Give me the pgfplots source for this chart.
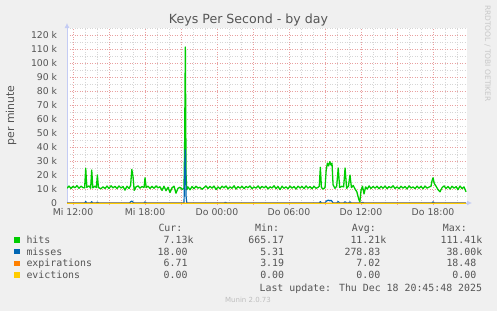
\documentclass[border=0pt]{standalone}
\usepackage{pgfplots}
\pgfplotsset{compat=1.18}
\usepackage{fontspec}
\setmainfont{DejaVu Sans}
\newfontfamily\mono{DejaVu Sans Mono}
\usetikzlibrary{arrows.meta}
\definecolor{bgc}{HTML}{F0F0F0}
\definecolor{txt}{HTML}{555555}
\definecolor{axb}{HTML}{C4CCF4}
\definecolor{mgrid}{HTML}{E9A0A0}
\definecolor{ngrid}{HTML}{D6D6D6}
\definecolor{chits}{HTML}{00CC00}
\definecolor{cmiss}{HTML}{0066B3}
\definecolor{cexp}{HTML}{FF8000}
\definecolor{cevi}{HTML}{FFCC00}
\pgfplotstableread{
h v
11.50 10.6
11.67 12.1
11.83 10.4
12.00 11.9
12.17 10.9
12.33 12.4
12.50 10.5
12.67 12.0
12.83 11.0
12.97 10.8
13.06 24.8
13.15 11.2
13.33 12.2
13.47 10.6
13.56 23.6
13.65 10.8
13.83 12.0
13.95 11.0
14.03 20.0
14.12 11.0
14.33 10.2
14.50 11.6
14.67 10.3
14.83 12.1
15.00 10.4
15.17 12.3
15.33 10.8
15.50 11.9
15.67 10.3
15.83 12.2
16.00 10.7
16.17 11.8
16.33 9.2
16.50 12.0
16.67 10.4
16.80 12.5
16.90 24.0
17.00 19.0
17.10 9.0
17.25 11.5
17.42 12.2
17.58 10.6
17.75 11.8
17.92 11.0
18.00 18.0
18.10 11.0
18.25 12.0
18.42 10.4
18.58 11.9
18.75 10.5
18.92 12.2
19.08 10.8
19.25 11.6
19.42 9.0
19.58 12.0
19.75 8.8
19.92 11.3
20.08 7.5
20.25 10.9
20.42 12.0
20.58 7.0
20.75 10.5
20.92 11.2
21.08 9.8
21.25 10.4
21.30 40.0
21.36 111.4
21.42 20.0
21.48 9.5
21.58 11.5
21.75 9.4
21.92 11.8
22.08 10.2
22.25 12.0
22.42 10.6
22.58 11.3
22.75 9.8
22.92 11.0
23.08 12.2
23.25 10.4
23.42 11.9
23.58 10.6
23.75 12.1
23.92 9.6
24.08 11.5
24.25 10.2
24.42 12.0
24.58 10.8
24.75 12.2
24.92 10.1
25.08 11.6
25.25 10.5
25.42 12.3
25.58 10.0
25.75 11.7
25.92 10.6
26.08 12.0
26.25 10.3
26.42 11.8
26.58 10.9
26.75 12.2
26.92 10.2
27.08 11.5
27.25 10.6
27.42 12.2
27.58 10.4
27.75 11.9
27.92 10.8
28.08 12.0
28.25 10.1
28.42 11.6
28.58 10.7
28.75 12.3
28.92 10.3
29.08 11.8
29.25 9.6
29.42 12.0
29.58 10.5
29.75 11.6
29.92 10.2
30.08 12.1
30.25 10.6
30.42 11.8
30.58 10.0
30.75 12.0
30.92 10.7
31.08 11.9
31.25 10.3
31.42 12.2
31.58 10.6
31.75 11.7
31.92 10.2
32.08 12.0
32.25 10.5
32.42 11.2
32.52 12.0
32.61 25.5
32.70 11.0
32.85 10.0
33.00 11.0
33.10 24.0
33.20 28.5
33.30 26.5
33.40 29.5
33.50 27.0
33.58 28.5
33.67 13.0
33.83 10.5
33.97 12.0
34.10 25.0
34.22 11.0
34.40 12.0
34.55 11.5
34.67 25.0
34.80 10.5
34.95 12.0
35.08 20.0
35.20 11.0
35.35 12.5
35.50 10.0
35.65 8.0
35.80 3.0
35.90 0.7
36.00 9.0
36.12 12.0
36.25 6.5
36.38 11.5
36.52 10.0
36.67 12.2
36.83 10.4
37.00 11.8
37.17 10.6
37.33 12.0
37.50 10.2
37.67 11.9
37.83 10.5
38.00 12.1
38.17 10.3
38.33 11.7
38.50 10.8
38.67 12.3
38.83 10.4
39.00 11.6
39.17 10.2
39.33 12.0
39.50 10.6
39.67 11.8
39.83 10.1
40.00 12.2
40.17 10.7
40.33 11.5
40.50 10.3
40.67 12.0
40.83 10.5
41.00 11.9
41.17 10.2
41.33 12.1
41.50 10.6
41.67 11.4
41.83 12.0
41.92 16.0
42.00 18.0
42.10 14.0
42.25 12.0
42.42 9.5
42.58 8.0
42.75 11.0
42.92 12.2
43.08 10.4
43.25 11.8
43.42 10.0
43.58 12.0
43.75 10.6
43.92 11.7
44.08 9.6
44.25 12.1
44.42 10.3
44.58 11.5
44.75 8.0
}\hits
\pgfplotstableread{
h v
11.50 0
12.97 0
13.06 1.0
13.15 0
13.47 0
13.56 0.9
13.65 0
13.95 0
14.03 0.7
14.12 0
16.70 0
16.80 0.8
16.90 1.4
17.00 0.6
17.10 0
17.92 0
18.00 0.8
18.10 0
21.25 0
21.30 20.0
21.36 38.0
21.42 5.0
21.48 0
24.60 0
24.70 0.5
24.80 0
32.52 0
32.61 1.0
32.70 0
33.00 0
33.10 1.2
33.20 1.8
33.30 2.0
33.40 1.6
33.50 1.9
33.58 1.2
33.67 0
33.97 0
34.10 1.0
34.22 0
34.55 0
34.67 0.9
34.80 0
34.95 0
35.08 0.8
35.20 0
36.00 0
36.12 0.5
36.25 0
41.92 0
42.00 0.8
42.10 0
44.75 0
}\misses
\begin{document}
\begin{tikzpicture}
\fill[bgc] (0,0) rectangle (497pt,311pt);
\begin{axis}[
  at={(67pt,108pt)}, anchor=south west,
  scale only axis, width=400pt, height=175pt,
  xmin=11.5, xmax=44.83, ymin=0, ymax=125,
  axis x line=bottom, axis y line=left,
  axis line style={draw=axb, line width=0.8pt, -{Latex[length=5pt,width=5pt]}, shorten >=-5pt},
  axis background/.style={fill=white},
  xtick={12,15,...,42},
  xticklabels={Mi 12:00,,Mi 18:00,,Do 00:00,,Do 06:00,,Do 12:00,,Do 18:00},
  minor xtick={11,13,14,16,17,19,20,22,23,25,26,28,29,31,32,34,35,37,38,40,41,43,44},
  ytick={0,10,...,120},
  yticklabels={0,10 k,20 k,30 k,40 k,50 k,60 k,70 k,80 k,90 k,100 k,110 k,120 k},
  minor ytick={5,15,...,125},
  grid=both,
  major grid style={draw=mgrid, line width=0.6pt, dash pattern=on 1pt off 1.5pt},
  minor grid style={draw=ngrid, line width=0.6pt, dash pattern=on 1pt off 1.5pt},
  tick align=outside,
  major tick length=2pt, minor tick length=0pt,
  xtick style={draw=mgrid, line width=0.6pt},
  ytick style={draw=none},
  xticklabel style={font=\fontsize{9.3}{10}\selectfont, text=txt, inner sep=0pt, yshift=-3pt, anchor=north},
  yticklabel style={font=\fontsize{9.3}{10}\selectfont, text=txt, inner sep=0pt, xshift=-7.7pt, anchor=east},
  clip=true,
]
\addplot[chits, line width=1.3pt, line join=round] table[x=h,y=v] {\hits};
\addplot[cmiss, line width=1.2pt, line join=round] table[x=h,y=v] {\misses};
\addplot[cexp, line width=0.9pt] coordinates {(11.5,0.007) (20,0.006) (30,0.007) (44.75,0.007)};
\addplot[cevi, line width=0.8pt] coordinates {(11.5,0) (44.75,0)};
\end{axis}
% title
\node[anchor=base, inner sep=0pt, text=txt, font=\fontsize{12.6}{14}\selectfont] at (248.5pt,287pt) {Keys Per Second - by day};
% y label
\node[rotate=90, inner sep=0pt, text=txt, font=\fontsize{10.9}{12}\selectfont] at (11pt,195.5pt) {per minute};
% rrdtool
\node[rotate=-90, anchor=west, inner sep=0pt, text={rgb,255:red,200;green,200;blue,200}, font=\fontsize{7.5}{8}\selectfont] at (487.5pt,306pt) {RRDTOOL / TOBI OETIKER};
% legend
\begin{scope}[every node/.style={inner sep=0pt, text=txt, font=\mono\fontsize{9.9}{11}\selectfont}]
\node[anchor=base west] at (158.3pt,80pt) {Cur:};
\node[anchor=base west] at (255pt,80pt) {Min:};
\node[anchor=base west] at (351.7pt,80pt) {Avg:};
\node[anchor=base west] at (442.7pt,80pt) {Max:};
\fill[chits] (14.3pt,68.3pt) rectangle (20pt,73.7pt);
\fill[cmiss] (14.3pt,56.6pt) rectangle (20pt,62pt);
\fill[cexp] (14.3pt,44.9pt) rectangle (20pt,50.3pt);
\fill[cevi] (14.3pt,33.2pt) rectangle (20pt,38.6pt);
\node[anchor=base west] at (26.3pt,67.5pt) {hits};
\node[anchor=base west] at (26.3pt,55.8pt) {misses};
\node[anchor=base west] at (26.3pt,44.1pt) {expirations};
\node[anchor=base west] at (26.3pt,32.4pt) {evictions};
% Cur
\node[anchor=base east] at (187.7pt,67.5pt) {7.13\rlap{k}};
\node[anchor=base east] at (187.7pt,55.8pt) {18.00};
\node[anchor=base east] at (187.7pt,44.1pt) {6.71};
\node[anchor=base east] at (187.7pt,32.4pt) {0.00};
% Min
\node[anchor=base east] at (284.3pt,67.5pt) {665.17};
\node[anchor=base east] at (284.3pt,55.8pt) {5.31};
\node[anchor=base east] at (284.3pt,44.1pt) {3.19};
\node[anchor=base east] at (284.3pt,32.4pt) {0.00};
% Avg
\node[anchor=base east] at (380.5pt,67.5pt) {11.21\rlap{k}};
\node[anchor=base east] at (380.5pt,55.8pt) {278.83};
\node[anchor=base east] at (380.5pt,44.1pt) {7.02};
\node[anchor=base east] at (380.5pt,32.4pt) {0.00};
% Max
\node[anchor=base east] at (476.5pt,67.5pt) {111.41\rlap{k}};
\node[anchor=base east] at (476.5pt,55.8pt) {38.00\rlap{k}};
\node[anchor=base east] at (476.5pt,44.1pt) {18.48};
\node[anchor=base east] at (476.5pt,32.4pt) {0.00};
\node[anchor=base east] at (482.3pt,20pt) {Last update: Thu Dec 18 20:45:48 2025};
\end{scope}
\node[anchor=base, inner sep=0pt, text={rgb,255:red,190;green,190;blue,190}, font=\fontsize{7}{8}\selectfont] at (248pt,8.7pt) {Munin 2.0.73};
\pgfresetboundingbox
\path[use as bounding box] (0,0) rectangle (497pt,311pt);
\end{tikzpicture}
\end{document}
